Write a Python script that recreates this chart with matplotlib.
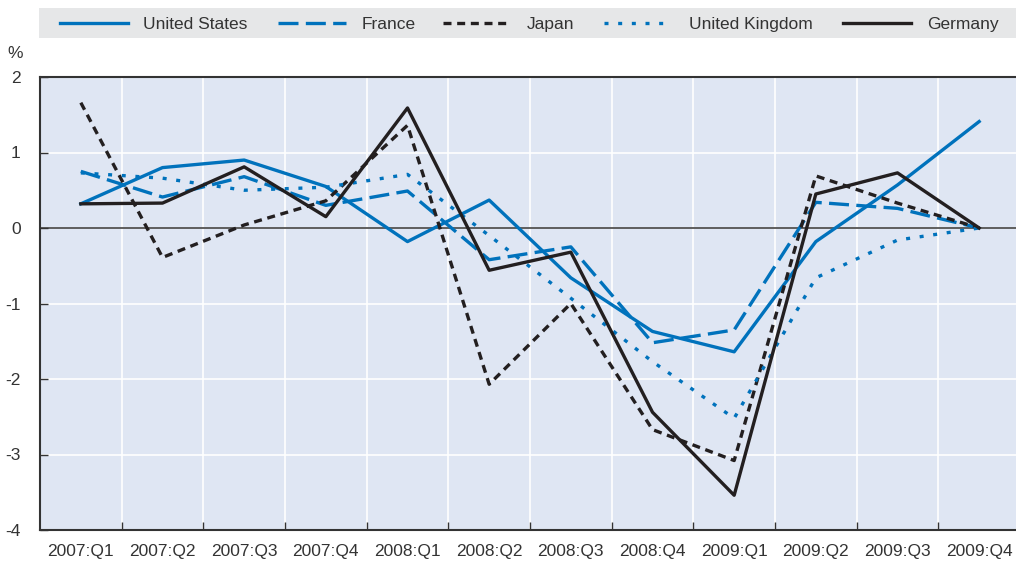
import matplotlib
matplotlib.use("Agg")
import matplotlib.pyplot as plt
from matplotlib import font_manager
from matplotlib.lines import Line2D
from matplotlib.patches import Rectangle

quarters = ["2007:Q1", "2007:Q2", "2007:Q3", "2007:Q4", "2008:Q1", "2008:Q2",
            "2008:Q3", "2008:Q4", "2009:Q1", "2009:Q2", "2009:Q3", "2009:Q4"]
united_states = [0.32, 0.80, 0.90, 0.55, -0.18, 0.37, -0.66, -1.37, -1.64, -0.18, 0.57, 1.41]
france = [0.75, 0.41, 0.68, 0.30, 0.49, -0.42, -0.25, -1.52, -1.35, 0.34, 0.26, 0.0]
japan = [1.66, -0.39, 0.04, 0.36, 1.36, -2.07, -1.00, -2.67, -3.08, 0.69, 0.33, 0.0]
united_kingdom = [0.73, 0.66, 0.50, 0.54, 0.71, -0.10, -0.93, -1.77, -2.52, -0.66, -0.16, 0.0]
germany = [0.32, 0.33, 0.81, 0.15, 1.59, -0.56, -0.32, -2.44, -3.54, 0.45, 0.73, 0.0]
y_ticks = [2, 1, 0, -1, -2, -3, -4]

names = [f.name for f in font_manager.fontManager.ttflist]
fam = "Liberation Sans Narrow" if "Liberation Sans Narrow" in names else "Liberation Sans"
plt.rcParams["font.family"] = [fam, "DejaVu Sans"]

BLUE = "#0072bc"
BLACK = "#231f20"
TXT = "#333333"
W, H = 1016, 562

fig = plt.figure(figsize=(10.16, 5.62), dpi=100)
ax = fig.add_axes([40 / W, 1 - 530 / H, 980 / W, (530 - 77) / H])
ax.set_facecolor("#dfe6f3")

x = list(range(len(quarters)))
lw = 2.4
styles = [
    ("United States", united_states, dict(color=BLUE)),
    ("France", france, dict(color=BLUE, dashes=(6, 2.2))),
    ("Japan", japan, dict(color=BLACK, dashes=(2.4, 1.7))),
    ("United Kingdom", united_kingdom, dict(color=BLUE, dashes=(1.2, 2.9))),
    ("Germany", germany, dict(color=BLACK)),
]
for name, vals, st in styles:
    ax.plot(x, vals, lw=lw, label=name, zorder=3, **st)

ax.set_xlim(-0.5, len(quarters) - 0.5)
ax.set_ylim(-4, 2)
ax.axhline(0, color="#333333", lw=1.1, zorder=1)

ax.set_xticks(x)
ax.set_xticklabels(quarters, fontsize=12.5, color=TXT)
ax.set_xticks([i + 0.5 for i in x[:-1]], minor=True)
ax.tick_params(axis="x", which="major", length=0, pad=10)
ax.tick_params(axis="x", which="minor", direction="in", length=6, color="#333333", width=1)
ax.set_yticks(y_ticks)
ax.set_yticklabels([str(v) for v in y_ticks], fontsize=12.5, color=TXT)
ax.tick_params(axis="y", direction="in", length=6, color="#333333", width=1, pad=14)

ax.grid(False)
for xv in [i + 0.5 for i in x[:-1]]:
    ax.axvline(xv, color="white", lw=1.2, zorder=0.5)
for yv in y_ticks:
    ax.axhline(yv, color="white", lw=1.2, zorder=0.5)

for s in ["left", "bottom", "top"]:
    ax.spines[s].set_color("#333333")
    ax.spines[s].set_linewidth(1.5)
ax.spines["right"].set_visible(False)

fig.text(15 / W, 1 - 53 / H, "%", fontsize=12.5, color=TXT, ha="center", va="center")

# Manual legend
fig.patches.append(Rectangle((39 / W, 1 - 38 / H), (W - 39) / W, 30 / H,
                             transform=fig.transFigure, facecolor="#e6e7e8",
                             edgecolor="none", zorder=0))
handle_x = [60, 278, 443, 604, 843]
text_x = [143, 362, 527, 689, 927]
ly = 1 - 23 / H
for (name, vals, st), hx, tx in zip(styles, handle_x, text_x):
    fig.add_artist(Line2D([hx / W, (hx + 68) / W], [ly, ly], transform=fig.transFigure,
                          lw=lw, **st))
    fig.text(tx / W, ly, name, fontsize=12.5, color=TXT, ha="left", va="center_baseline")

fig.savefig("out.png", dpi=100)
